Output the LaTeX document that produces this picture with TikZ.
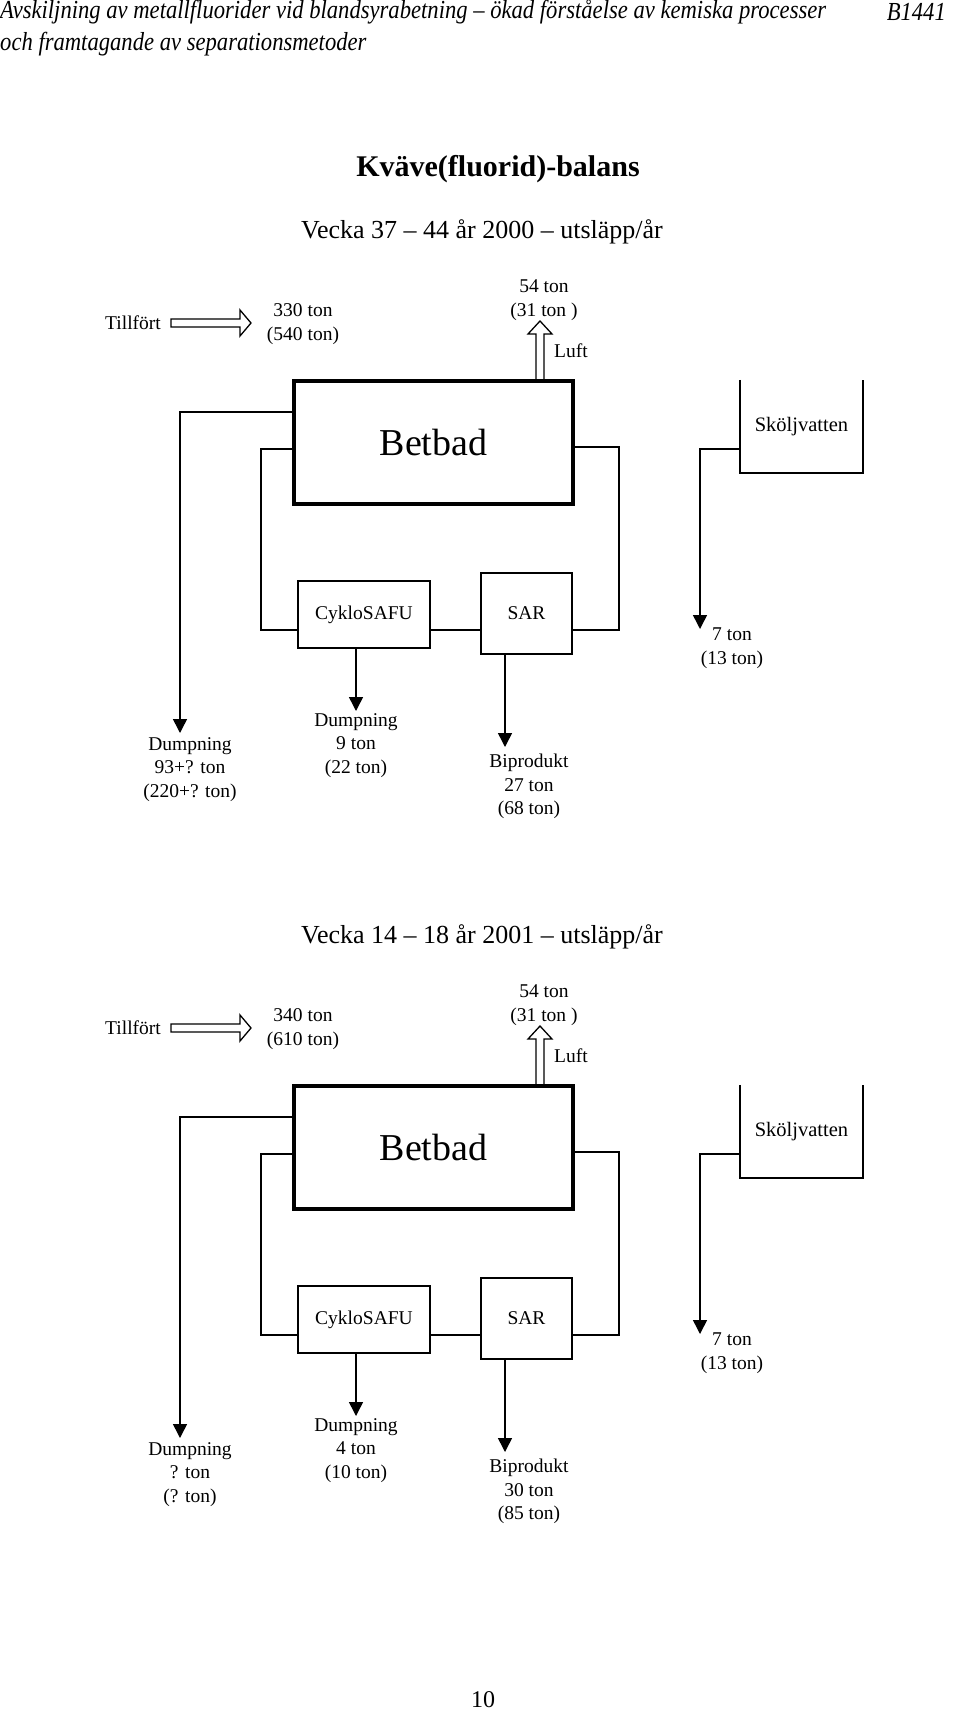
\documentclass[tikz,border=0pt]{standalone}
\usepackage{fontspec}
\setmainfont{Liberation Serif}
\usetikzlibrary{arrows.meta}

\newcommand\lblfont{\fontsize{19.5}{23.5}\selectfont}
\newcommand\hdrfont{\fontsize{26}{30}\selectfont\itshape}

\tikzset{
  lbl/.style={font=\lblfont, align=center, inner sep=0pt},
  unit/.style={draw, line width=1.5pt, fill=white, inner sep=0pt, font=\lblfont},
  tank/.style={draw, line width=3.3pt, fill=white, inner sep=0pt, font=\fontsize{38}{40}\selectfont},
  pipe/.style={line width=1.5pt},
  flow/.style={line width=1.5pt, -{Triangle[width=14pt,length=14pt]}},
  hollow/.style={draw, line width=1.3pt, line join=miter},
}

\begin{document}
\begin{tikzpicture}[x=1pt, y=-1pt]
\useasboundingbox (0,0) rectangle (960,1713);

% sidhuvud
\node[anchor=west, inner sep=0pt] (hdrA) at (0,12) {\scalebox{0.87}[1]{\hdrfont Avskiljning av metallfluorider vid blandsyrabetning – ökad förståelse av kemiska processer}};
\node[anchor=east, inner sep=0pt] (hdrNr) at (946,12) {\scalebox{0.87}[1]{\hdrfont B1441}};
\node[anchor=west, inner sep=0pt] (hdrB) at (0,44) {\scalebox{0.87}[1]{\hdrfont och framtagande av separationsmetoder}};

\node[font=\fontsize{30}{33}\selectfont\bfseries] (titel) at (498,169) {Kväve(fluorid)-balans};

% en balans per period
\foreach \yo/\wk/\inA/\inB/\dA/\dB/\cA/\cB/\bA/\bB in
  {0/{37 – 44 år 2000}/330/540/93+?/220+?/9/22/27/68,
   705/{14 – 18 år 2001}/340/610/?/?/4/10/30/85}{

  \node[font=\fontsize{26}{30}\selectfont] (vecka) at (482,\yo+232) {Vecka \wk{} – utsläpp/år};

  % tillfört
  \node[lbl] (tillf) at (133,\yo+323) {Tillfört};
  \coordinate (inS) at (171,\yo+323);
  \draw[hollow, shift={(inS)}] (0,-4) -- (69,-4) -- (69,-13) -- (80,0) -- (69,13) -- (69,4) -- (0,4) -- cycle;
  \node[lbl] (inAmt) at (303,\yo+324) {\inA{} ton\\(\inB{} ton)};

  % betbad och luft
  \node[tank, minimum width=279pt, minimum height=123pt] (betbad) at (433.5,\yo+442.5) {Betbad};
  \coordinate (luftS) at (540,\yo+380);
  \draw[hollow, shift={(luftS)}] (-4,0) -- (-4,-46) -- (-12,-46) -- (0,-59) -- (12,-46) -- (4,-46) -- (4,0);
  \node[lbl] (luftAmt) at (544,\yo+300) {54 ton\\(31 ton )};
  \node[lbl] (luft) at (571,\yo+351) {Luft};

  % reningssteg
  \node[unit, minimum width=132pt, minimum height=67pt] (cyklo) at (364,\yo+614.5) {CykloSAFU};
  \node[unit, minimum width=91pt, minimum height=81pt] (sar) at (526.5,\yo+613.5) {SAR};
  \node[font=\fontsize{20.5}{24}\selectfont, minimum width=123pt, minimum height=93pt, inner sep=0pt] (skolj) at (801.5,\yo+426.5) {Sköljvatten};
  \draw[pipe] (skolj.north west) -- (skolj.south west) -- (skolj.south east) -- (skolj.north east);

  % kretslopp
  \coordinate (rowL) at (261,\yo+630);
  \coordinate (rowR) at (619,\yo+630);
  \draw[pipe] ([yshift=-6.5pt]betbad.west) -| (rowL) -- (rowL -| cyklo.west);
  \draw[pipe] (rowL -| cyklo.east) -- (rowL -| sar.west);
  \draw[pipe] (rowR -| sar.east) -- (rowR) |- ([yshift=-4.5pt]betbad.east);

  % utflöden
  \coordinate (tipA) at (180,\yo+733);
  \draw[flow] ([yshift=30.5pt]betbad.west) -| (tipA);
  \node[lbl, anchor=north] (dumpA) at (190,\yo+737) {Dumpning\\\dA{} ton\\(\dB{} ton)};

  \coordinate (tipB) at (356,\yo+711);
  \draw[flow] (cyklo.south -| tipB) -- (tipB);
  \node[lbl, anchor=north] (dumpB) at (356,\yo+713) {Dumpning\\\cA{} ton\\(\cB{} ton)};

  \coordinate (tipC) at (505,\yo+747);
  \draw[flow] (sar.south -| tipC) -- (tipC);
  \node[lbl, anchor=north] (bipr) at (529,\yo+754) {Biprodukt\\\bA{} ton\\(\bB{} ton)};

  \coordinate (tipD) at (700,\yo+629);
  \draw[flow] ([yshift=-22.5pt]skolj.west) -| (tipD);
  \node[lbl, anchor=north] (skoljAmt) at (732,\yo+628) {7 ton\\(13 ton)};
}

\node[font=\fontsize{24}{28}\selectfont] (sidnr) at (483,1700) {10};

\end{tikzpicture}
\end{document}
